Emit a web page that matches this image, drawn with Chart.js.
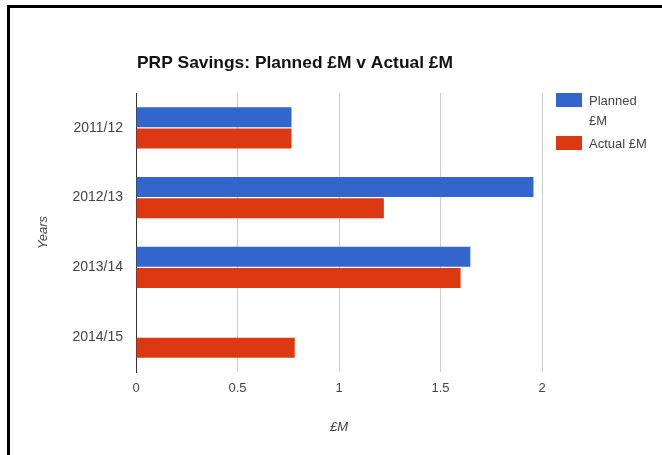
<!DOCTYPE html>
<html>
<head>
<meta charset="utf-8">
<script src="https://cdn.jsdelivr.net/npm/chart.js@4"></script>
<style>
  html, body { margin: 0; padding: 0; background: #fff; }
  #wrap { position: relative; width: 662px; height: 455px; }
  #frame { position: absolute; left: 7px; top: 5px; right: -10px; bottom: -10px; border-top: 3px solid #000; border-left: 3px solid #000; pointer-events: none; }
</style>
</head>
<body>
<div id="wrap">
  <canvas id="chart" width="662" height="455"></canvas>
  <div id="frame"></div>
</div>
<script>
const years = ['2011/12', '2012/13', '2013/14', '2014/15'];
const planned = [0.766, 1.958, 1.647, null];
const actual = [0.766, 1.221, 1.599, 0.782];
const xTicks = [0, 0.5, 1, 1.5, 2];
const chartTitle = 'PRP Savings: Planned £M v Actual £M';
const seriesNames = [['Planned', '£M'], ['Actual £M']];
const colours = ['#3366cc', '#dc3912'];

const font = 'Arial, "Liberation Sans", sans-serif';

// title and wrapped legend, google charts style
const extras = {
    id: 'extras',
    afterDraw(chart) {
        const ctx = chart.ctx, area = chart.chartArea;
        ctx.save();
        ctx.fillStyle = '#111';
        ctx.font = 'bold 17px ' + font;
        ctx.textBaseline = 'alphabetic';
        const w = ctx.measureText(chartTitle).width;
        ctx.translate(area.left + 1, 68);
        ctx.scale(316 / w, 1);
        ctx.fillText(chartTitle, 0, 0);
        ctx.restore();

        ctx.save();
        ctx.font = '13px ' + font;
        ctx.textBaseline = 'middle';
        let y = 93;
        seriesNames.forEach((lines, i) => {
            ctx.fillStyle = colours[i];
            ctx.fillRect(556, y, 26, 14);
            ctx.fillStyle = '#444';
            lines.forEach((t, j) => ctx.fillText(t, 589, y + 8 + j * 20));
            y += 20 * lines.length + 3;
        });
        ctx.restore();
    }
};

new Chart(document.getElementById('chart'), {
    type: 'bar',
    data: {
        labels: years,
        datasets: [
            { label: 'Planned £M', data: planned, backgroundColor: colours[0] },
            { label: 'Actual £M', data: actual, backgroundColor: colours[1] }
        ]
    },
    options: {
        indexAxis: 'y',
        responsive: false,
        animation: false,
        categoryPercentage: 0.607,
        barPercentage: 0.95,
        layout: { padding: { top: 93, right: 120, left: 0, bottom: 0 } },
        plugins: { legend: { display: false }, title: { display: false }, tooltip: { enabled: false } },
        scales: {
            x: {
                min: 0, max: 2,
                afterBuildTicks: s => { s.ticks = xTicks.map(v => ({ value: v })); },
                grid: { color: c => c.index === 0 ? '#333' : '#ccc', drawTicks: false },
                border: { display: false },
                ticks: { color: '#444', padding: 9, font: { size: 13, family: font }, callback: v => String(v) },
                title: { display: true, text: '£M', color: '#444', padding: { top: 0, bottom: 20 }, font: { size: 13, style: 'italic', family: font } },
                afterFit: s => { s.height = 83; }
            },
            y: {
                grid: { display: false, drawTicks: false },
                border: { display: true, color: '#333', width: 1 },
                ticks: { color: '#444', padding: 13, font: { size: 14, family: font } },
                title: { display: true, text: 'Years', color: '#444', padding: { top: 36, bottom: 0 }, font: { size: 13, style: 'italic', family: font } },
                afterFit: s => { s.width = 136; }
            }
        }
    },
    plugins: [extras]
});
</script>
</body>
</html>
